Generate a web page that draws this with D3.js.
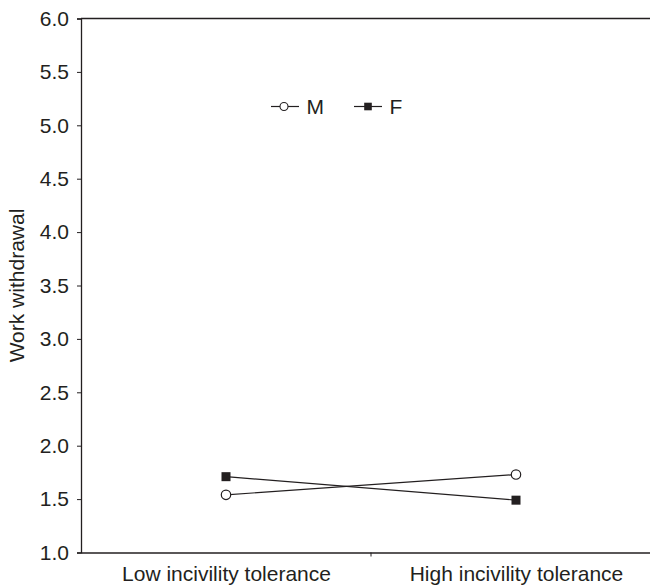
<!DOCTYPE html>
<html><head><meta charset="utf-8">
<script src="https://cdn.jsdelivr.net/npm/d3@7"></script>
<style>body{margin:0;background:#fff}svg{display:block}text{font-family:"Liberation Sans",Arial,sans-serif;fill:#231f20}</style>
</head><body><svg id="c" width="650" height="585"></svg>
<script>
const categories = ["Low incivility tolerance","High incivility tolerance"];
const seriesNames = ["M","F"];
const valuesM = [1.54,1.73];
const valuesF = [1.71,1.49];
const yTicks = [1.0,1.5,2.0,2.5,3.0,3.5,4.0,4.5,5.0,5.5,6.0];
const yTitle = "Work withdrawal";

(function(){
const svg = d3.select("#c");
const pL=81, pR=661, pT=18.5, pB=552.5;
const fs=21;
const x = d3.scalePoint().domain(categories).range([pL,pR]).padding(0.5);
const xb = d3.scaleBand().domain(categories).range([pL,pR]);
const y = d3.scaleLinear().domain([1,6]).range([pB,pT]);
const ink="#231f20";

svg.append("line").attr("x1",pL).attr("x2",650).attr("y1",pT).attr("y2",pT).attr("stroke",ink).attr("stroke-width",1.3);

const ya = svg.append("g").attr("transform",`translate(${pL},0)`)
  .call(d3.axisLeft(y).tickValues(yTicks).tickFormat(d3.format(".1f")).tickSize(4).tickPadding(8));
ya.select(".domain").attr("stroke",ink).attr("stroke-width",1.3);
ya.selectAll(".tick line").attr("stroke",ink);
ya.selectAll(".tick text").attr("font-size",fs).style("font-family","Liberation Sans, Arial, sans-serif").attr("fill",ink);

const xa = svg.append("g").attr("transform",`translate(0,${pB})`)
  .call(d3.axisBottom(x).tickSize(0).tickPadding(14));
xa.select(".domain").attr("stroke",ink).attr("stroke-width",1.3);
xa.selectAll(".tick text").attr("font-size",fs).style("font-family","Liberation Sans, Arial, sans-serif").attr("fill",ink).attr("dy","0.71em");
svg.append("line").attr("x1",xb(categories[1])).attr("x2",xb(categories[1])).attr("y1",pB).attr("y2",pB+4).attr("stroke",ink);

svg.append("text").attr("transform",`translate(24,${(pT+pB)/2}) rotate(-90)`).attr("text-anchor","middle")
  .attr("font-size",fs).text(yTitle);

const line = d3.line().x((d,i)=>x(categories[i])).y(d=>y(d));
svg.append("path").attr("d",line(valuesM)).attr("fill","none").attr("stroke",ink).attr("stroke-width",1.2);
svg.append("path").attr("d",line(valuesF)).attr("fill","none").attr("stroke",ink).attr("stroke-width",1.2);
svg.selectAll(".m").data(valuesM).join("circle").attr("cx",(d,i)=>x(categories[i])).attr("cy",d=>y(d)).attr("r",4.7)
  .attr("fill","#fff").attr("stroke",ink).attr("stroke-width",1.2);
svg.selectAll(".f").data(valuesF).join("rect").attr("x",(d,i)=>x(categories[i])-4.5).attr("y",d=>y(d)-4.5)
  .attr("width",9).attr("height",9).attr("fill",ink);

const lg = svg.append("g");
const ly=106.5;
const items=[{name:seriesNames[0],x0:271,shape:"c"},{name:seriesNames[1],x0:354,shape:"s"}];
items.forEach(it=>{
  lg.append("line").attr("x1",it.x0).attr("x2",it.x0+28).attr("y1",ly).attr("y2",ly).attr("stroke",ink).attr("stroke-width",1.2);
  if(it.shape==="c") lg.append("circle").attr("cx",it.x0+13).attr("cy",ly).attr("r",4).attr("fill","#fff").attr("stroke",ink).attr("stroke-width",1.1);
  else lg.append("rect").attr("x",it.x0+10.2).attr("y",ly-3.8).attr("width",7.6).attr("height",7.6).attr("fill",ink);
  lg.append("text").attr("x",it.x0+35.5).attr("y",ly).attr("dy","0.36em").attr("font-size",fs).text(it.name);
});
})();
</script></body></html>
